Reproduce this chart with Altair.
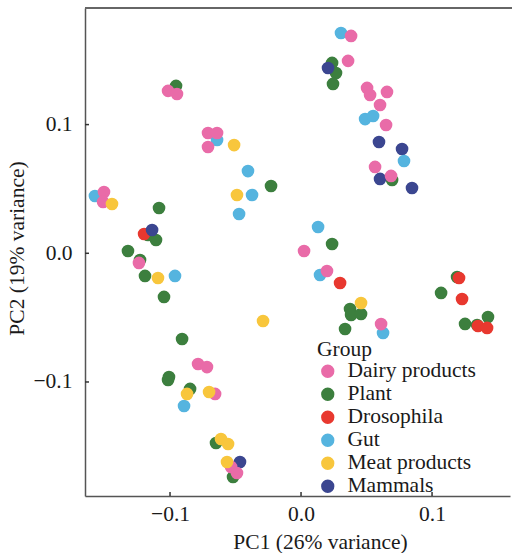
import altair as alt
import pandas as pd

groups = ["Dairy products", "Plant", "Drosophila", "Gut", "Meat products", "Mammals"]
colors = ["#E96BA8", "#3C7F3E", "#E8382F", "#55B4DF", "#F8C63C", "#3B4690"]

dairy_x = [-0.1015, -0.0947, -0.0710, -0.0641, -0.0710, 0.0382, 0.0359, 0.0504, 0.0527, 0.0656,
           0.0603, 0.0649, 0.0565, 0.0687, -0.1504, -0.1511, -0.1237, 0.0023, 0.0198, 0.0611,
           -0.0786, -0.0718, -0.0656, -0.0534, -0.0489]
dairy_y = [0.1262, 0.1238, 0.0935, 0.0935, 0.0826, 0.1689, 0.1495, 0.1285, 0.1230, 0.1254,
           0.1152, 0.0997, 0.0671, 0.0601, 0.0476, 0.0399, -0.0075, 0.0018, -0.0138, -0.0550,
           -0.0860, -0.0884, -0.1093, -0.1660, -0.1707]

plant_x = [-0.0954, 0.0237, 0.0267, 0.0244, 0.0695, -0.0229, -0.1084, -0.1168, -0.1107, -0.1321,
           -0.1229, -0.1191, -0.1046, 0.0237, 0.0374, 0.0382, 0.0458, 0.0336, 0.1191, 0.1069,
           0.1252, 0.1344, 0.1427, -0.0908, -0.1008, -0.1015, -0.0847, -0.0649, -0.0519]
plant_y = [0.1301, 0.1479, 0.1401, 0.1316, 0.0570, 0.0523, 0.0352, 0.0142, 0.0103, 0.0018,
           -0.0052, -0.0176, -0.0339, 0.0072, -0.0433, -0.0479, -0.0472, -0.0588, -0.0184, -0.0308,
           -0.0549, -0.0557, -0.0495, -0.0666, -0.0961, -0.0984, -0.1054, -0.1474, -0.1738]

dros_x = [-0.1198, 0.0298, 0.1206, 0.1229, 0.1351, 0.1420]
dros_y = [0.0150, -0.0231, -0.0192, -0.0355, -0.0565, -0.0580]

gut_x = [0.0305, -0.0641, -0.0405, -0.0374, -0.0473, 0.0489, 0.0550, 0.0786, -0.1573, -0.0962,
         0.0130, 0.0145, 0.0626, -0.0893]
gut_y = [0.1712, 0.0880, 0.0639, 0.0453, 0.0305, 0.1043, 0.1067, 0.0717, 0.0445, -0.0176,
         0.0204, -0.0169, -0.0619, -0.1187]

meat_x = [-0.0511, -0.0489, -0.1443, -0.1092, -0.0290, 0.0458, -0.0870, -0.0702, -0.0611, -0.0557, -0.0565]
meat_y = [0.0841, 0.0453, 0.0383, -0.0192, -0.0526, -0.0386, -0.1093, -0.1078, -0.1443, -0.1482, -0.1622]

mamm_x = [0.0206, 0.0595, 0.0771, 0.0603, 0.0847, -0.1137, -0.0466]
mamm_y = [0.1440, 0.0865, 0.0810, 0.0578, 0.0507, 0.0181, -0.1622]

tick_values = [-0.1, 0.0, 0.1]

# drawing order (later = on top)
draw = [("Plant", plant_x, plant_y), ("Drosophila", dros_x, dros_y), ("Mammals", mamm_x, mamm_y),
        ("Gut", gut_x, gut_y), ("Dairy products", dairy_x, dairy_y), ("Meat products", meat_x, meat_y)]
rows = []
for g, xs, ys in draw:
    for a, b in zip(xs, ys):
        rows.append({"PC1": a, "PC2": b, "Group": g})
df = pd.DataFrame(rows)

FONT = "Liberation Serif"
TXT = "#1a1a1a"
W, H = 425, 488
xscale = alt.Scale(domain=[-0.1649, 0.1595], nice=False, zero=False)
yscale = alt.Scale(domain=[-0.1886, 0.1906], nice=False, zero=False)

xaxis = alt.Axis(
    values=tick_values, format=".1f", ticks=False, tickSize=0, grid=False,
    labelPadding=7, labelFont=FONT, labelFontSize=21.5, labelColor=TXT,
    domainColor="#555555", domainWidth=1.5,
    title="PC1 (26% variance)", titleFont=FONT, titleFontSize=21.5, titleFontWeight="normal",
    titleColor=TXT, titleX=235, titleY=52, titleBaseline="alphabetic", titleAlign="center")
yaxis = alt.Axis(
    values=tick_values, format=".1f", ticks=False, tickSize=0, grid=False,
    labelPadding=13, labelFont=FONT, labelFontSize=21.5, labelColor=TXT,
    domainColor="#555555", domainWidth=1.5,
    title="PC2 (19% variance)", titleFont=FONT, titleFontSize=21.5, titleFontWeight="normal",
    titleColor=TXT, titleAngle=270, titleX=-62, titleY=240, titleBaseline="alphabetic",
    titleAlign="center")

points = alt.Chart(df).mark_circle(size=160, opacity=1).encode(
    x=alt.X("PC1:Q", scale=xscale, axis=xaxis),
    y=alt.Y("PC2:Q", scale=yscale, axis=yaxis),
    color=alt.Color("Group:N", scale=alt.Scale(domain=groups, range=colors), legend=alt.Legend(
        title="Group", orient="none", legendX=232, legendY=331,
        titleFont=FONT, titleFontSize=21.5, titleFontWeight="normal", titleColor=TXT,
        titlePadding=0, titleBaseline="top",
        labelFont=FONT, labelFontSize=21.5, labelColor=TXT, labelOffset=9,
        symbolType="circle", symbolSize=177, symbolStrokeWidth=0, symbolOpacity=1,
        rowPadding=0, padding=0)),
)

tick_df = pd.DataFrame({"PC1": tick_values, "PC2": tick_values})
xticks = alt.Chart(tick_df).mark_rule(color="#333333", strokeWidth=1.5).encode(
    x=alt.X("PC1:Q", scale=xscale, axis=xaxis), y=alt.value(H), y2=alt.value(H - 4))
yticks = alt.Chart(tick_df).mark_rule(color="#333333", strokeWidth=1.5).encode(
    y=alt.Y("PC2:Q", scale=yscale, axis=yaxis), x=alt.value(0), x2=alt.value(4))
top = alt.Chart(pd.DataFrame({"a": [0]})).mark_rule(color="#666666", strokeWidth=2).encode(
    x=alt.value(0), x2=alt.value(W + 2), y=alt.value(0))

chart = alt.layer(points, xticks, yticks, top).properties(
    width=W, height=H, autosize="none",
    padding={"left": 85, "top": 8, "right": 2, "bottom": 57},
).configure_view(stroke=None)

chart.save("out.html", embed_options={"renderer": "svg", "actions": False})
